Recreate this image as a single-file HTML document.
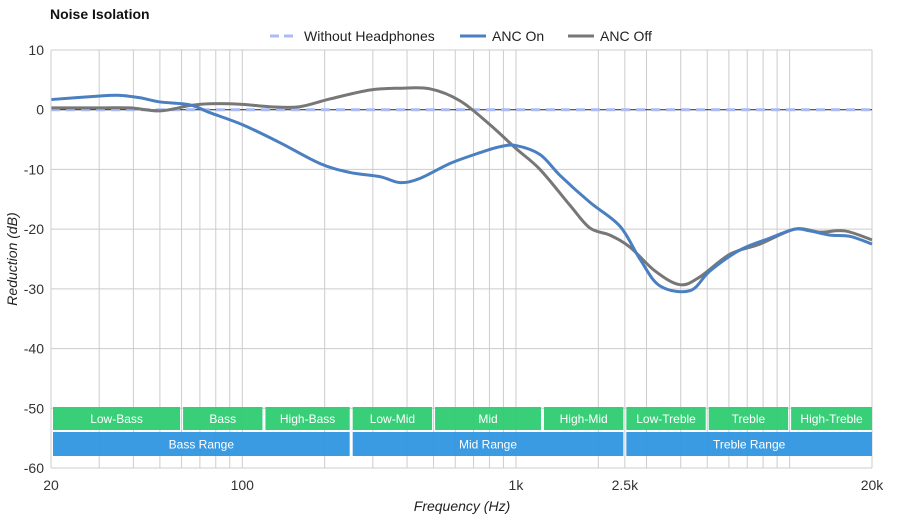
<!DOCTYPE html>
<html><head><meta charset="utf-8"><style>
body{margin:0;background:#fff;font-family:"Liberation Sans",sans-serif}
svg text{font-family:"Liberation Sans",sans-serif}
</style></head><body>
<svg id="c" width="900" height="520" xmlns="http://www.w3.org/2000/svg">
<text x="50" y="19" font-size="14" font-weight="bold" fill="#111">Noise Isolation</text>
<g id="grid"></g><g id="bands"></g><g id="series"></g><g id="axes"></g>
<g>
<line x1="270" y1="36" x2="298" y2="36" stroke="#aabbf5" stroke-width="3" stroke-dasharray="9,5"/>
<text x="304" y="41" font-size="14" fill="#222">Without Headphones</text>
<line x1="460" y1="36" x2="486" y2="36" stroke="#4a7fc1" stroke-width="3"/>
<text x="492" y="41" font-size="14" fill="#222">ANC On</text>
<line x1="568" y1="36" x2="594" y2="36" stroke="#777" stroke-width="3"/>
<text x="600" y="41" font-size="14" fill="#222">ANC Off</text>
</g>
<text x="462" y="511" font-size="14" font-style="italic" text-anchor="middle" fill="#222">Frequency (Hz)</text>
<text transform="translate(17,259) rotate(-90)" font-size="14" font-style="italic" text-anchor="middle" fill="#222">Reduction (dB)</text>
</svg>
<script>
const yTicks=[10,0,-10,-20,-30,-40,-50,-60];
const xTickLabels=["20","100","1k","2.5k","20k"];
const xTickValues=[20,100,1000,2500,20000];
const onFreq=[20,30.2,35.7,42.3,50,64.4,76.2,100,137,192,247,318,377,446,574,738,873,1000,1224,1449,1862,2398,2837,3358,4325,5117,6577,8472,10450,11860,14030,16600,20000];
const onVals=[1.7,2.3,2.4,2.0,1.3,0.8,-0.5,-2.5,-5.5,-9,-10.5,-11.2,-12.2,-11.5,-9,-7.2,-6.2,-6,-7.5,-11,-15.5,-19.5,-25,-29.5,-30.3,-27,-23.5,-21.5,-20,-20.3,-21,-21.2,-22.5];
const offFreq=[20,30.2,38.9,50,64.4,76.2,100,126,162,209,293,377,485,624,803,1000,1224,1575,1862,2204,2608,3221,3972,4700,6050,7780,10450,12900,15920,20000];
const offVals=[0.3,0.3,0.3,-0.2,0.7,1.0,0.9,0.5,0.5,1.8,3.3,3.6,3.5,1.5,-2.5,-6.5,-10,-16,-19.8,-21,-23,-27,-29.3,-28,-24.2,-22.5,-20,-20.5,-20.3,-21.8];
const baselineFreq=[20,20000];
const baselineVals=[0,0];
const bandNames=["Low-Bass","Bass","High-Bass","Low-Mid","Mid","High-Mid","Low-Treble","Treble","High-Treble"];
const bandEdges=[20,60,120,250,500,1250,2500,5000,10000,20000];
const rangeNames=["Bass Range","Mid Range","Treble Range"];
const rangeEdges=[20,250,2500,20000];

const X0=51,X1=872,Y0=50,Y1=468;
const xs=f=>X0+(Math.log10(f/20)/3)*(X1-X0);
const ys=v=>Y0+(10-v)/70*(Y1-Y0);
const NS="http://www.w3.org/2000/svg";
function mk(p,t,a){const e=document.createElementNS(NS,t);for(const k in a)e.setAttribute(k,a[k]);document.getElementById(p).appendChild(e);return e;}

// grid
const gf=[];for(let d=10;d<=10000;d*=10)for(let m=1;m<10;m++){const f=m*d;if(f>=20&&f<=20000)gf.push(f);}gf.push(20000,2500);
gf.forEach(f=>{const l=mk('grid','line',{x1:xs(f),x2:xs(f),y1:Y0,y2:Y1,stroke:'#ccc','stroke-width':1});

});
yTicks.forEach(v=>{const l=mk('grid','line',{x1:X0,x2:X1,y1:ys(v),y2:ys(v),stroke:v===0?'#222':'#ccc','stroke-width':1});


const t=mk('axes','text',{x:44,y:ys(v)+5,'font-size':14,'text-anchor':'end',fill:'#333'});t.textContent=v;

});
xTickValues.forEach((f,i)=>{const t=mk('axes','text',{x:xs(f),y:490,'font-size':14,'text-anchor':'middle',fill:'#333'});t.textContent=xTickLabels[i];

});
mk('axes','line',{x1:X0,x2:X0,y1:Y0,y2:Y1,stroke:'#ccc'});
mk('axes','line',{x1:X0,x2:X1,y1:Y1,y2:Y1,stroke:'#ccc'});

// bands
function band(names,edges,y,h,color,nm){names.forEach((n,i)=>{const a=xs(edges[i])+(i?1.5:2),b=xs(edges[i+1])-(i<names.length-1?1.5:0);
const r=mk('bands','rect',{x:a,y:y,width:b-a,height:h,fill:color,opacity:0.95});


const t=mk('bands','text',{x:(a+b)/2,y:y+h/2+4.5,'font-size':12,'text-anchor':'middle',fill:'#fff'});t.textContent=n;

});}
band(bandNames,bandEdges,407,23,'#2ecc71','frequency');
band(rangeNames,rangeEdges,432,24,'#2f95e0','range');

// series
function path(fr,vals){const p=fr.map((f,i)=>[xs(f),ys(vals[i])]);let d='M'+p[0][0]+','+p[0][1];
for(let i=0;i<p.length-1;i++){const p0=p[i-1]||p[i],p1=p[i],p2=p[i+1],p3=p[i+2]||p2;
d+=' C'+(p1[0]+(p2[0]-p0[0])/6)+','+(p1[1]+(p2[1]-p0[1])/6)+' '+(p2[0]-(p3[0]-p1[0])/6)+','+(p2[1]-(p3[1]-p1[1])/6)+' '+p2[0]+','+p2[1];}return d;}
const b=mk('series','path',{d:path(baselineFreq,baselineVals),stroke:'#aabbf5','stroke-width':3,'stroke-dasharray':'9,6',fill:'none'});


const off=mk('series','path',{d:path(offFreq,offVals),stroke:'#777','stroke-width':3,fill:'none'});


const on=mk('series','path',{d:path(onFreq,onVals),stroke:'#4a7fc1','stroke-width':3,fill:'none'});


</script>
</body></html>
